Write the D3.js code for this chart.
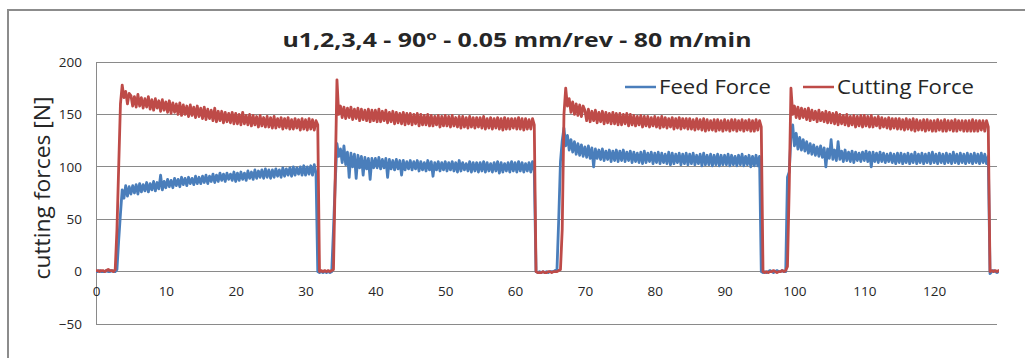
<!DOCTYPE html>
<html>
<head>
<meta charset="utf-8">
<script src="https://cdn.jsdelivr.net/npm/d3@7"></script>
<style>
  body { margin: 0; background: #fff; }
  text { font-family: "Open Sans", "Noto Sans", sans-serif; fill: #262626; }
</style>
</head>
<body>
<svg id="vis"></svg>
<script>

//Data, one sample every quarter second (one row = 5 s)
var timeStep = 0.25;

var feedForce = [
    0,0,1,0,0,0,1,0,0,1, 0,0,2,30,55,78,70,82,72,81,
    74,82,75,83,74,84,76,83,77,85, 76,84,78,86,77,85,79,92,78,86,
    80,88,81,87,80,89,82,88,81,90, 83,89,82,90,84,89,83,91,84,90,
    84,91,85,92,84,91,86,93,85,92, 86,94,87,93,86,94,88,93,87,95,
    86,94,87,95,88,94,87,96,89,95, 88,97,89,96,90,97,89,98,90,97,
    89,97,90,98,91,97,90,99,91,98, 92,99,91,100,92,99,93,100,92,101,
    92,100,93,101,92,102,94,0,-1,0, -1,0,-1,0,-1,0,40,85,122,110,
    117,104,120,102,114,90,113,100,112,89, 111,99,110,92,109,98,108,88,108,99,
    108,99,109,98,107,99,108,90,107,98, 106,97,107,98,106,92,106,97,105,98,
    106,97,105,98,106,96,105,97,104,96, 106,97,105,91,104,97,105,96,104,97,
    105,96,104,97,105,96,104,95,106,96, 104,97,103,96,105,95,104,96,104,95,
    104,96,105,95,104,96,103,95,104,96, 105,94,104,95,103,96,104,95,105,96,
    104,95,105,96,104,95,103,96,104,95, 105,96,0,-1,0,-1,0,-1,0,-1,
    0,0,0,1,2,50,105,125,137,120, 130,116,126,114,124,112,122,111,121,110,
    119,109,120,108,118,100,117,108,116,107, 117,106,115,107,116,105,115,106,116,105,
    115,106,116,105,114,106,115,104,114,105, 113,104,114,103,115,104,113,105,114,103,
    113,104,114,103,113,104,112,103,114,102, 113,103,112,104,113,102,112,103,113,102,
    112,103,113,102,111,103,112,101,113,102, 111,102,112,101,111,102,112,101,111,102,
    111,102,112,101,111,102,110,101,111,102, 112,101,110,102,111,100,110,101,111,101,
    110,0,-1,0,-1,0,1,0,-1,0, 1,0,0,1,0,0,90,95,128,140,
    120,132,117,128,116,126,115,124,113,122, 112,121,111,119,110,120,109,118,100,117,
    108,126,107,116,106,124,107,115,105,116, 106,114,105,115,104,114,106,113,105,114,
    106,115,105,114,100,114,105,113,104,114, 105,113,104,112,105,113,104,112,103,113,
    104,113,103,112,104,113,103,112,104,114, 103,112,104,113,103,112,104,113,103,114,
    104,112,103,113,104,112,103,113,104,112, 103,114,104,112,103,113,104,112,103,113,
    104,112,103,113,104,112,103,113,104,112, 103,110,-2,0,1,0,-1,0,1,0
];

var cuttingForce = [
    1,1,0,1,1,0,1,2,1,1, 0,2,40,100,160,178,166,172,160,170,
    168,158,167,157,169,158,166,156,165,157, 167,155,164,154,165,156,163,153,164,154,
    162,152,163,151,161,152,160,150,161,149, 159,150,158,148,159,149,157,147,158,148,
    156,146,157,145,155,146,154,144,156,143, 153,144,153,142,152,143,151,142,152,141,
    151,141,150,140,152,141,149,140,150,139, 149,140,148,138,149,139,147,138,148,138,
    147,137,148,137,146,138,147,136,146,137, 147,136,145,136,146,137,145,135,146,136,
    145,135,146,136,145,135,144,140,0,1, 0,1,0,1,0,1,2,90,183,150,
    158,147,157,146,156,147,157,145,155,146, 156,144,155,145,154,144,155,143,154,144,
    154,143,155,143,153,144,154,142,152,143, 153,141,152,142,151,141,152,140,151,141,
    151,140,150,141,151,139,150,140,149,140, 150,139,149,139,148,140,149,138,148,139,
    149,139,148,138,149,139,147,138,148,137, 148,138,147,137,148,138,147,137,147,138,
    147,137,148,136,146,137,147,136,146,137, 147,136,146,135,147,136,146,136,146,137,
    146,136,147,136,146,135,146,136,145,136, 146,140,0,-1,-1,-1,0,-1,-1,0,
    0,-1,0,0,0,1,2,40,150,175, 158,165,152,162,150,160,149,159,148,158,
    154,144,155,143,153,144,154,142,152,143, 153,141,152,142,151,141,152,141,151,140,
    151,140,150,141,151,139,150,140,149,139, 148,140,149,138,148,139,148,138,147,139,
    148,138,147,137,148,138,147,137,146,138, 147,136,146,137,147,136,146,137,146,136,
    146,136,145,135,146,136,145,135,146,134, 145,135,144,135,145,134,145,135,144,134,
    145,135,144,134,145,135,145,134,144,135, 145,134,144,135,145,134,144,134,145,135,
    144,138,0,-1,0,-1,0,0,1,0, -1,0,0,1,0,1,5,80,175,150,
    158,147,157,146,156,147,155,145,156,144, 154,145,153,143,154,144,152,143,153,142,
    152,142,151,141,152,140,150,141,149,140, 150,139,148,140,149,138,148,139,149,138,
    149,139,148,138,149,138,147,139,148,137, 147,138,146,137,147,136,146,137,146,136,
    146,136,145,135,146,136,145,135,146,134, 145,135,144,135,145,134,145,135,144,134,
    144,134,145,135,144,134,145,134,144,135, 144,134,145,134,144,135,144,134,144,134,
    144,134,145,134,144,134,144,135,144,134, 144,138,0,1,0,1,0,1,0,1
];

var seriesNames = ["Feed Force", "Cutting Force"];
var seriesColors = ["#4a7ebb", "#be4b48"];
var xTicks = [0,10,20,30,40,50,60,70,80,90,100,110,120];
var yTicks = [-50,0,50,100,150,200];

//Canvas
var width = 1025;
var height = 358;
var svg = d3.select("#vis").attr("width", width).attr("height", height);

//Chart frame
svg.append("rect")
    .attr("x", 8).attr("y", 10)
    .attr("width", 1040).attr("height", 400)
    .attr("fill", "#fff")
    .attr("stroke", "#8c8c8c")
    .attr("stroke-width", 2);

//Scales
var x = d3.scaleLinear().domain([0, 129]).range([96, 997]);
var y = d3.scaleLinear().domain([-50, 200]).range([324, 62]);

//Gridlines
svg.append("g").selectAll("line")
    .data(yTicks)
    .enter()
    .append("line")
    .attr("x1", x(0)).attr("x2", x(129))
    .attr("y1", function(d){ return y(d); })
    .attr("y2", function(d){ return y(d); })
    .attr("stroke", "#8a8a8a")
    .attr("stroke-width", 1)
    .attr("shape-rendering", "crispEdges");

//Y axis
var yAxis = svg.append("g")
    .attr("transform", "translate(" + x(0) + ",0)")
    .call(d3.axisLeft(y).tickValues(yTicks).tickSize(0).tickPadding(14));
yAxis.select(".domain").attr("stroke", "#8a8a8a").attr("shape-rendering", "crispEdges");
yAxis.selectAll("text").style("font-size", "13.5px").attr("fill", "#262626");

//X axis crosses at zero
var xAxis = svg.append("g")
    .attr("transform", "translate(0," + y(0) + ")")
    .call(d3.axisBottom(x).tickValues(xTicks).tickSize(0).tickPadding(15));
xAxis.select(".domain").remove();
xAxis.selectAll("text").style("font-size", "13.5px").attr("fill", "#262626");

//Lines
svg.append("clipPath").attr("id", "plotClip")
    .append("rect")
    .attr("x", x(0) - 2).attr("y", y(200) - 10)
    .attr("width", x(129) - x(0) + 4).attr("height", y(-50) - y(200) + 20);

var line = d3.line()
    .x(function(d, i){ return x(i * timeStep); })
    .y(function(d){ return y(d); });

var plot = svg.append("g").attr("clip-path", "url(#plotClip)");
[feedForce, cuttingForce].forEach(function(values, k){
    plot.append("path")
        .datum(values)
        .attr("d", line)
        .attr("fill", "none")
        .attr("stroke", seriesColors[k])
        .attr("stroke-width", 2.8)
        .attr("stroke-linejoin", "round");
});

//Title
var title = svg.append("text")
    .attr("x", 517).attr("y", 47)
    .attr("text-anchor", "middle")
    .attr("textLength", 469)
    .attr("lengthAdjust", "spacingAndGlyphs")
    .style("font-size", "19px")
    .style("font-weight", "bold");
title.append("tspan").text("u1,2,3,4 - 90");
title.append("tspan").attr("dy", -7).style("font-size", "13px").text("o");
title.append("tspan").attr("dy", 7).text(" - 0.05 mm/rev - 80 m/min");

//Y label
svg.append("text")
    .attr("transform", "translate(50,188) rotate(-90)")
    .attr("text-anchor", "middle")
    .attr("textLength", 183)
    .attr("lengthAdjust", "spacingAndGlyphs")
    .style("font-size", "21px")
    .text("cutting forces [N]");

//Legend
var legendX = [625, 803];
var legendW = [112, 137];
seriesNames.forEach(function(name, k){
    svg.append("line")
        .attr("x1", legendX[k]).attr("x2", legendX[k] + 31)
        .attr("y1", 87).attr("y2", 87)
        .attr("stroke", seriesColors[k])
        .attr("stroke-width", 2.5);
    svg.append("text")
        .attr("x", legendX[k] + 34).attr("y", 94)
        .attr("textLength", legendW[k])
        .attr("lengthAdjust", "spacingAndGlyphs")
        .style("font-size", "20px")
        .text(name);
});

</script>
</body>
</html>
